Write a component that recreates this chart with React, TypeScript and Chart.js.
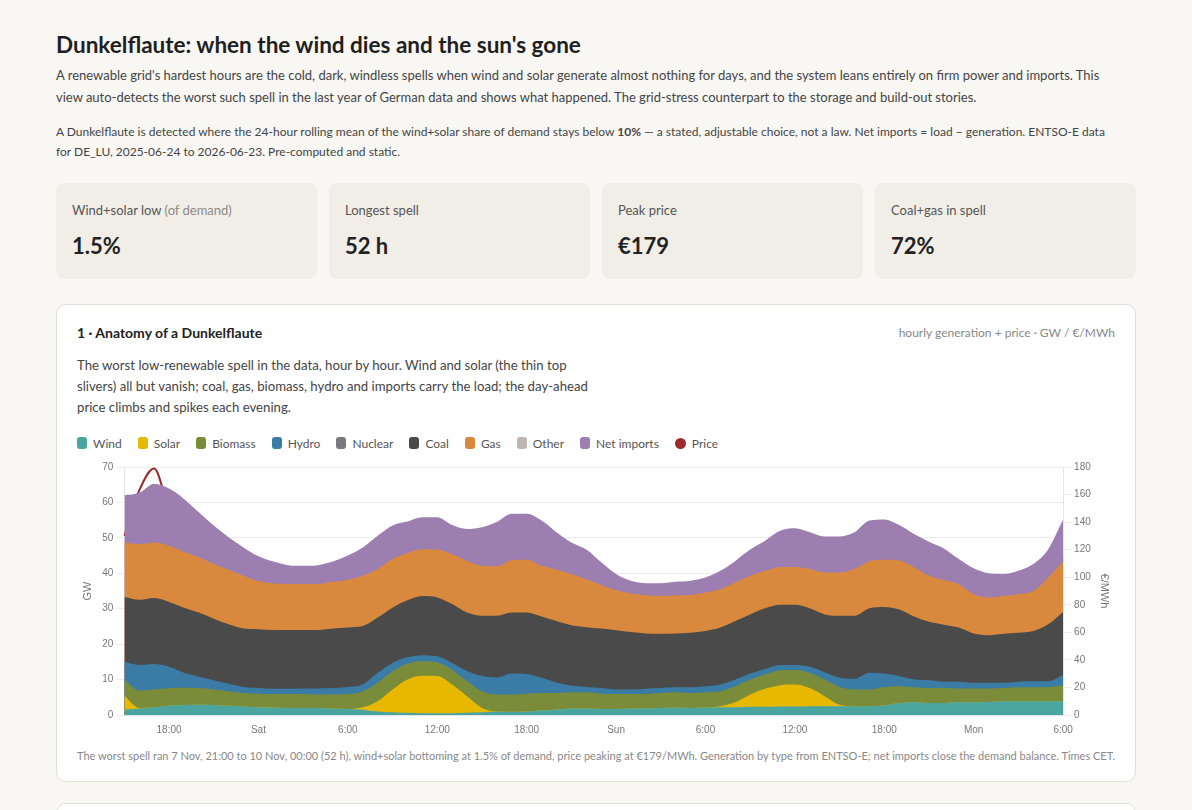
import React, { useEffect, useRef } from "react";
import { Chart, registerables } from "chart.js";

Chart.register(...registerables);

// ---- Data (hourly, Fri 7 Nov 15:00 → Mon 10 Nov 06:00, CET) ----
const categories = [
  "Fri 15:00", "Fri 16:00", "Fri 17:00", "Fri 18:00", "Fri 19:00", "Fri 20:00", "Fri 21:00", "Fri 22:00", "Fri 23:00",
  "Sat 00:00", "Sat 01:00", "Sat 02:00", "Sat 03:00", "Sat 04:00", "Sat 05:00", "Sat 06:00", "Sat 07:00",
  "Sat 08:00", "Sat 09:00", "Sat 10:00", "Sat 11:00", "Sat 12:00", "Sat 13:00", "Sat 14:00", "Sat 15:00",
  "Sat 16:00", "Sat 17:00", "Sat 18:00", "Sat 19:00", "Sat 20:00", "Sat 21:00", "Sat 22:00", "Sat 23:00",
  "Sun 00:00", "Sun 01:00", "Sun 02:00", "Sun 03:00", "Sun 04:00", "Sun 05:00", "Sun 06:00", "Sun 07:00",
  "Sun 08:00", "Sun 09:00", "Sun 10:00", "Sun 11:00", "Sun 12:00", "Sun 13:00", "Sun 14:00", "Sun 15:00",
  "Sun 16:00", "Sun 17:00", "Sun 18:00", "Sun 19:00", "Sun 20:00", "Sun 21:00", "Sun 22:00", "Sun 23:00",
  "Mon 00:00", "Mon 01:00", "Mon 02:00", "Mon 03:00", "Mon 04:00", "Mon 05:00", "Mon 06:00",
];

const wind = [
  1.5, 1.8, 2.2, 2.6, 2.8, 2.9, 2.8, 2.6, 2.4, 2.2,
  2.1, 2.0, 2.0, 2.0, 1.8, 1.7, 1.5, 1.0, 0.8, 0.6,
  0.5, 0.5, 0.5, 0.6, 0.8, 0.9, 0.9, 1.0, 1.3, 1.5,
  1.8, 1.8, 1.7, 1.7, 1.8, 1.9, 2.0, 2.1, 2.0, 2.1,
  2.2, 2.2, 2.3, 2.3, 2.4, 2.4, 2.5, 2.5, 2.5, 2.5,
  2.5, 2.7, 3.4, 3.6, 3.4, 3.4, 3.6, 3.6, 3.7, 3.9,
  3.9, 3.9, 3.9, 3.9,
];
const solar = [
  4.0, 0.2, 0, 0, 0, 0, 0, 0, 0, 0,
  0, 0, 0, 0, 0, 0, 0.7, 2.9, 6.4, 9.4,
  10.6, 10.5, 8.1, 4.7, 1.2, 0.1, 0, 0, 0, 0,
  0, 0, 0, 0, 0, 0, 0, 0, 0, 0,
  0.3, 1.4, 3.5, 5.1, 6.0, 6.2, 5.1, 2.8, 0.4, 0,
  0, 0, 0, 0, 0, 0, 0, 0, 0, 0,
  0, 0, 0, 0,
];
const biomass = [
  4.5, 4.9, 5.0, 5.0, 4.9, 4.7, 4.4, 4.1, 3.8, 3.8,
  3.8, 3.9, 3.9, 3.8, 4.0, 4.2, 4.5, 5.2, 5.2, 4.5,
  4.1, 3.9, 4.2, 4.2, 4.7, 4.8, 4.9, 5.0, 4.9, 4.7,
  4.6, 4.6, 4.3, 4.2, 4.1, 4.1, 4.2, 4.3, 4.2, 4.3,
  4.2, 4.5, 4.2, 4.0, 4.2, 4.1, 4.3, 4.7, 5.0, 4.7,
  4.7, 5.2, 4.7, 4.2, 4.2, 4.2, 3.9, 3.9, 3.8, 3.7,
  3.9, 3.9, 4.0, 4.4,
];
const hydro = [
  5.0, 7.2, 7.2, 6.0, 4.2, 3.2, 2.6, 2.1, 1.7, 1.6,
  1.5, 1.5, 1.6, 1.7, 1.8, 2.0, 1.9, 2.8, 2.3, 1.8,
  1.7, 1.7, 1.9, 2.9, 4.3, 4.8, 5.9, 5.6, 4.3, 3.0,
  1.9, 1.5, 1.6, 1.3, 1.3, 1.4, 1.4, 1.4, 1.6, 1.7,
  1.9, 1.9, 1.7, 1.6, 1.5, 1.4, 1.7, 2.1, 2.6, 3.0,
  4.7, 3.8, 2.9, 2.2, 2.2, 1.8, 1.9, 1.6, 1.6, 1.5,
  1.6, 1.7, 1.6, 2.9,
];
const nuclear = [
  0, 0, 0, 0, 0, 0, 0, 0, 0, 0,
  0, 0, 0, 0, 0, 0, 0, 0, 0, 0,
  0, 0, 0, 0, 0, 0, 0, 0, 0, 0,
  0, 0, 0, 0, 0, 0, 0, 0, 0, 0,
  0, 0, 0, 0, 0, 0, 0, 0, 0, 0,
  0, 0, 0, 0, 0, 0, 0, 0, 0, 0,
  0, 0, 0, 0,
];
const coal = [
  18.3, 18.4, 18.6, 18.3, 18.4, 18.1, 17.4, 16.8, 16.5, 16.6,
  16.6, 16.6, 16.5, 16.5, 16.8, 16.8, 16.5, 15.6, 15.6, 16.1,
  16.7, 16.6, 16.6, 16.5, 17.0, 17.4, 17.2, 17.3, 17.3, 17.3,
  17.0, 16.9, 16.8, 16.7, 16.2, 15.6, 15.3, 15.2, 15.4, 15.6,
  16.1, 16.5, 16.7, 17.1, 17.0, 17.0, 16.5, 16.3, 17.5, 17.8,
  18.2, 18.8, 18.8, 17.8, 16.5, 16.1, 15.3, 13.9, 13.4, 13.8,
  13.8, 14.2, 16.1, 17.9,
];
const gas = [
  15.4, 15.7, 15.7, 15.9, 15.8, 15.6, 15.4, 15.4, 14.9, 13.6,
  13.1, 13.0, 13.0, 13.0, 13.2, 13.5, 14.2, 13.7, 13.7, 13.3,
  13.2, 13.5, 14.1, 14.6, 14.1, 14.0, 14.8, 14.9, 14.3, 14.5,
  14.5, 13.5, 12.3, 11.3, 10.9, 10.8, 10.7, 10.8, 10.7, 10.9,
  10.8, 10.9, 10.9, 10.6, 10.7, 10.7, 11.1, 11.8, 12.2, 13.2,
  13.3, 13.3, 13.8, 13.9, 13.0, 12.6, 12.2, 11.1, 10.7, 10.7,
  10.9, 11.3, 13.2, 14.4,
];
const other = [
  0, 0, 0, 0, 0, 0, 0, 0, 0, 0,
  0, 0, 0, 0, 0, 0, 0, 0, 0, 0,
  0, 0, 0, 0, 0, 0, 0, 0, 0, 0,
  0, 0, 0, 0, 0, 0, 0, 0, 0, 0,
  0, 0, 0, 0, 0, 0, 0, 0, 0, 0,
  0, 0, 0, 0, 0, 0, 0, 0, 0, 0,
  0, 0, 0, 0,
];
const netImports = [
  13.3, 14.5, 16.6, 16.1, 14.9, 12.7, 10.9, 9.2, 8.0, 7.0,
  6.2, 5.3, 5.1, 5.3, 5.7, 6.8, 8.0, 9.4, 9.5, 8.9,
  9.0, 9.1, 8.2, 9.0, 10.9, 12.5, 13.1, 13.0, 12.8, 10.6,
  8.9, 8.4, 6.4, 4.6, 3.6, 3.4, 3.6, 3.8, 4.0, 4.2,
  5.2, 6.1, 7.4, 8.5, 10.2, 10.9, 10.4, 10.2, 10.2, 10.4,
  11.5, 11.4, 10.0, 9.4, 9.6, 8.9, 7.1, 7.3, 6.8, 6.2,
  6.6, 7.6, 8.0, 11.7,
];
const price = [
  130, 163, 179, 150, 140, 130, 122, 116, 110, 105,
  100, 97, 95, 96, 99, 104, 112, 120, 124, 122,
  116, 112, 115, 124, 130, 136, 141, 142, 135, 126,
  118, 112, 104, 97, 92, 90, 88, 88, 89, 92,
  97, 104, 110, 114, 113, 110, 110, 116, 122, 128,
  136, 136, 132, 125, 118, 112, 105, 99, 95, 94,
  97, 102, 108, 113,
];

const genSeries = [
  { label: "Wind", data: wind, color: "#4aa5a0" },
  { label: "Solar", data: solar, color: "#e6b800" },
  { label: "Biomass", data: biomass, color: "#7a8b3a" },
  { label: "Hydro", data: hydro, color: "#3a7ca6" },
  { label: "Nuclear", data: nuclear, color: "#7b7880" },
  { label: "Coal", data: coal, color: "#4a4a4a" },
  { label: "Gas", data: gas, color: "#d8893e" },
  { label: "Other", data: other, color: "#bdb6b0" },
  { label: "Net imports", data: netImports, color: "#9c7eb0" },
];
const priceColor = "#9e2a2b";

const UI_FONT = 'Lato, "Liberation Sans", Arial, sans-serif';

const kpis = [
  { label: "Wind+solar low", sub: " (of demand)", value: "1.5%" },
  { label: "Longest spell", sub: "", value: "52 h" },
  { label: "Peak price", sub: "", value: "€179" },
  { label: "Coal+gas in spell", sub: "", value: "72%" },
];

function AnatomyChart() {
  const ref = useRef<HTMLCanvasElement>(null);
  useEffect(() => {
    const areas = genSeries.map((s) => ({
      type: "line" as const,
      label: s.label,
      data: s.data,
      yAxisID: "y",
      backgroundColor: s.color,
      borderColor: s.color,
      borderWidth: 0,
      pointRadius: 0,
      pointHoverRadius: 0,
      fill: s.data.every((v) => v === 0) ? false : "origin",
      cubicInterpolationMode: "monotone" as const,
      order: 0,
    }));
    const priceDs = {
      type: "line" as const,
      label: "Price",
      data: price,
      yAxisID: "y1",
      borderColor: priceColor,
      backgroundColor: priceColor,
      borderWidth: 2,
      pointRadius: 0,
      fill: false,
      cubicInterpolationMode: "monotone" as const,
      order: 1,
    };
    const chart = new Chart(ref.current!, {
      type: "line",
      data: { labels: categories, datasets: [...areas, priceDs] as any },
      options: {
        animation: false,
        responsive: true,
        maintainAspectRatio: false,
        plugins: { legend: { display: false }, tooltip: { enabled: false } },
        scales: {
          x: {
            type: "category",
            grid: { display: false, drawTicks: false },
            border: { display: true, color: "#e5e5e5" },
            ticks: {
              autoSkip: false,
              maxRotation: 0,
              padding: 9,
              color: "#777",
              font: { size: 10 },
              callback: (_v: any, idx: number) => {
                const [day, time] = categories[idx].split(" ");
                const h = parseInt(time, 10);
                if (h % 6 !== 0) return null;
                return h === 0 ? day : `${h}:00`;
              },
            },
          },
          y: {
            stacked: true,
            min: 0,
            max: 70,
            position: "left",
            ticks: { stepSize: 10, color: "#777", font: { size: 10 }, padding: 3 },
            grid: { color: "#ebebeb" },
            border: { color: "#e5e5e5" },
            title: { display: true, text: "GW", color: "#777", font: { size: 11 }, padding: { top: 4, bottom: 5 } },
          },
          y1: {
            min: 0,
            max: 180,
            position: "right",
            ticks: { stepSize: 20, color: "#777", font: { size: 10 } },
            grid: { drawOnChartArea: false, color: "#ebebeb" },
            border: { color: "#e5e5e5" },
            title: { display: true, text: "€/MWh", color: "#777", font: { size: 11 } },
          },
        },
      },
    });
    return () => chart.destroy();
  }, []);
  return (
    <div style={{ position: "relative", height: 287 }}>
      <canvas ref={ref} />
    </div>
  );
}

export default function App() {
  useEffect(() => {
    document.body.style.background = "#f9f7f3";
  }, []);
  const legendItems = [...genSeries.map((s) => ({ label: s.label, color: s.color, round: false })), { label: "Price", color: priceColor, round: true }];
  return (
    <div style={{ maxWidth: 1080, margin: "0 auto", paddingTop: 22, paddingBottom: 40, fontFamily: UI_FONT, color: "#222" }}>
      <h1 style={{ fontSize: 22.5, fontWeight: 700, lineHeight: "30px", margin: 0, color: "#1f1f1f" }}>
        Dunkelflaute: when the wind dies and the sun's gone
      </h1>
      <p style={{ fontSize: 13, lineHeight: "22px", margin: "4px 0 0", color: "#444", whiteSpace: "nowrap" }}>
        A renewable grid's hardest hours are the cold, dark, windless spells when wind and solar generate almost nothing for days, and the system leans entirely on firm power and imports. This
        <br />
        view auto-detects the worst such spell in the last year of German data and shows what happened. The grid-stress counterpart to the storage and build-out stories.
      </p>
      <p style={{ fontSize: 12, lineHeight: "20px", margin: "14px 0 0", color: "#444", whiteSpace: "nowrap" }}>
        A Dunkelflaute is detected where the 24-hour rolling mean of the wind+solar share of demand stays below <b>10%</b> — a stated, adjustable choice, not a law. Net imports = load − generation. ENTSO-E data
        <br />
        for DE_LU, 2025-06-24 to 2026-06-23. Pre-computed and static.
      </p>
      <div style={{ display: "grid", gridTemplateColumns: "repeat(4, 1fr)", gap: 12, marginTop: 21 }}>
        {kpis.map((k) => (
          <div key={k.label} style={{ background: "#f1eee8", borderRadius: 8, height: 96, padding: "18px 16px 0", boxSizing: "border-box" }}>
            <div style={{ fontSize: 13, lineHeight: "18px", color: "#555" }}>
              {k.label}
              {k.sub && <span style={{ color: "#8f8a84" }}>{k.sub}</span>}
            </div>
            <div style={{ fontSize: 22, lineHeight: "28px", fontWeight: 700, marginTop: 13, color: "#222" }}>{k.value}</div>
          </div>
        ))}
      </div>
      <div style={{ marginTop: 25, background: "#fff", border: "1px solid #e3dfd8", borderRadius: 10, padding: "18px 20px 17px" }}>
        <div style={{ display: "flex", justifyContent: "space-between", alignItems: "center", height: 18 }}>
          <div style={{ fontSize: 14, fontWeight: 700, color: "#222" }}>1 · Anatomy of a Dunkelflaute</div>
          <div style={{ fontSize: 12, color: "#888" }}>hourly generation + price · GW / €/MWh</div>
        </div>
        <p style={{ fontSize: 13.2, lineHeight: "21px", margin: "14px 0 0", color: "#444", whiteSpace: "nowrap" }}>
          The worst low-renewable spell in the data, hour by hour. Wind and solar (the thin top
          <br />
          slivers) all but vanish; coal, gas, biomass, hydro and imports carry the load; the day-ahead
          <br />
          price climbs and spikes each evening.
        </p>
        <div style={{ display: "flex", alignItems: "center", marginTop: 16, height: 18, fontSize: 12, color: "#555" }}>
          {legendItems.map((it) => (
            <div key={it.label} style={{ display: "flex", alignItems: "center", marginRight: 16 }}>
              <span
                style={{
                  display: "inline-block",
                  width: it.round ? 11 : 10,
                  height: it.round ? 11 : 12,
                  borderRadius: it.round ? "50%" : 3,
                  background: it.color,
                  marginRight: 6,
                }}
              />
              {it.label}
            </div>
          ))}
        </div>
        <div style={{ marginTop: 6 }}>
          <AnatomyChart />
        </div>
        <div style={{ fontSize: 11, lineHeight: "16px", color: "#888", marginTop: 3 }}>
          The worst spell ran 7 Nov, 21:00 to 10 Nov, 00:00 (52 h), wind+solar bottoming at 1.5% of demand, price peaking at €179/MWh. Generation by type from ENTSO-E; net imports close the demand balance. Times CET.
        </div>
      </div>
      <div style={{ marginTop: 21, background: "#fff", border: "1px solid #e3dfd8", borderRadius: 10, height: 300 }} />
    </div>
  );
}
